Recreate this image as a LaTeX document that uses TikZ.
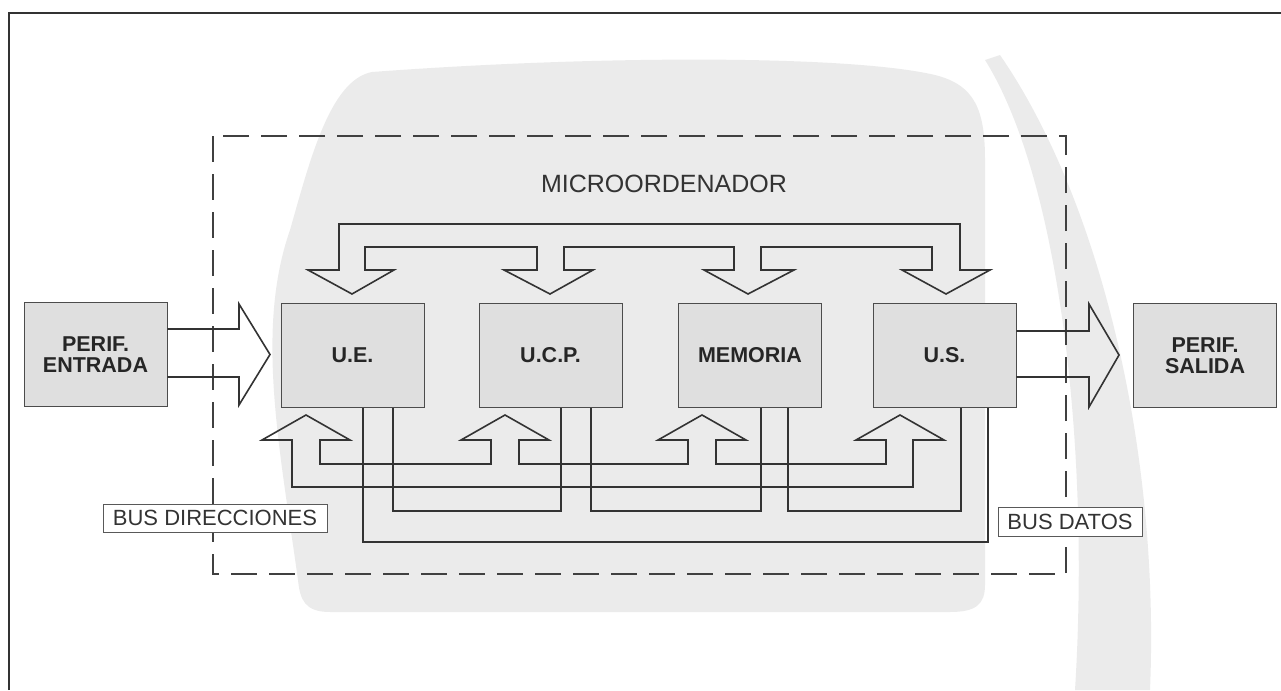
\documentclass[tikz,border=0pt]{standalone}
\usepackage{fontspec}
\setmainfont{Liberation Sans}
\usetikzlibrary{calc}
\begin{document}
\begin{tikzpicture}[x=1pt,y=-1pt,
  unit/.style={draw=gray!60!black, line width=0.8pt, fill=gray!25, minimum width=143pt, minimum height=104pt, inner sep=0pt, font=\fontsize{21.5}{21}\selectfont\bfseries, text=black!85, align=center},
  buslabel/.style={draw=gray!70!black, line width=0.6pt, fill=white, inner sep=0pt, font=\fontsize{22}{22}\selectfont, text=black!80},
  wire/.style={draw=black!80, line width=1.6pt, line join=miter},
  dashbox/.style={draw=black!75, line width=1.8pt, dash pattern=on 26pt off 12pt},
  backtone/.style={fill=gray!16},
]
\useasboundingbox (0,0) rectangle (1281,690);
% background tone of the scan
\fill[backtone] (372,72) .. controls (600,55) and (850,55) .. (935,75) .. controls (975,85) and (985,110) .. (985,160) -- (985,585) .. controls (985,605) and (975,612) .. (950,612) -- (330,612) .. controls (305,612) and (300,600) .. (298,580) .. controls (280,450) and (255,330) .. (290,230) .. controls (310,160) and (330,80) .. (372,72) -- cycle;
\fill[backtone] (985,60) .. controls (1060,180) and (1090,450) .. (1075,690) -- (1150,690) .. controls (1160,450) and (1100,200) .. (1000,55) -- cycle;
% frame
\draw[black!80, line width=1.2pt] (9,690) -- (9,13) -- (1281,13);
% microcomputer dashed box
\draw[dashbox] (213,136) rectangle (1066,574);
\node[font=\fontsize{25}{25}\selectfont, anchor=base, text=black!80, inner sep=0pt] (micro) at (664,192) {MICROORDENADOR};
% top bus
\draw[wire] (339,224) -- (960,224) -- (960,270) -- (990,270) -- (946,294) -- (902,270) -- (932,270) -- (932,247)
  -- (761,247) -- (761,270) -- (794,270) -- (748,294) -- (704,270) -- (734,270) -- (734,247)
  -- (564,247) -- (564,270) -- (593,270) -- (550,294) -- (504,270) -- (537,270) -- (537,247)
  -- (365,247) -- (365,270) -- (394,270) -- (352,294) -- (308,270) -- (339,270) -- cycle;
% address bus (arrows up)
\draw[wire] (320,440) -- (320,464) -- (491,464) -- (491,440) -- (461,440) -- (505,415) -- (549,440) -- (519,440)
  -- (519,464) -- (688,464) -- (688,440) -- (658,440) -- (702,415) -- (746,440) -- (716,440)
  -- (716,464) -- (886,464) -- (886,440) -- (856,440) -- (900,415) -- (944,440) -- (913,440)
  -- (913,487) -- (292,487) -- (292,440) -- (262,440) -- (306,415) -- (350,440) -- cycle;
% data bus
\draw[wire] (363,407) -- (363,542) -- (988,542) -- (988,407);
\draw[wire] (393,407) -- (393,511) -- (561,511) -- (561,407);
\draw[wire] (591,407) -- (591,511) -- (761,511) -- (761,407);
\draw[wire] (788,407) -- (788,511) -- (961,511) -- (961,407);
% units
\node[unit] (ent) at (95.5,354.5) {PERIF.\\ENTRADA};
\node[unit] (ue) at (352.5,355) {U.E.};
\node[unit] (ucp) at (550.5,355) {U.C.P.};
\node[unit] (mem) at (750,355) {MEMORIA};
\node[unit] (us) at (944.5,355) {U.S.};
\node[unit] (sal) at (1205,355.5) {PERIF.\\SALIDA};
% input / output arrows
\draw[wire] ($(ent.east)+(0,-25.5)$) -- (239,329) -- (239,304) -- (270,354.5) -- (239,405) -- (239,377) -- ($(ent.east)+(0,22.5)$);
\draw[wire] ($(us.east)+(0,-24)$) -- (1089,331) -- (1089,304) -- (1119,355) -- (1089,407) -- (1089,377) -- ($(us.east)+(0,22)$);
% bus labels
\node[buslabel, minimum width=224pt, minimum height=28pt] (bdir) at (215,518) {BUS DIRECCIONES};
\node[buslabel, minimum width=144pt, minimum height=29pt] (bdat) at (1070,521.5) {BUS DATOS};
\end{tikzpicture}
\end{document}
